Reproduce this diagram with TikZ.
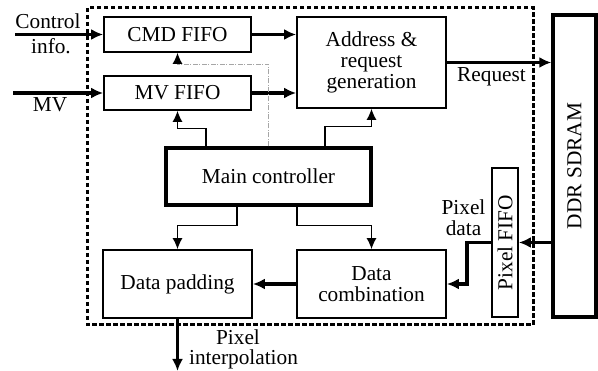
\documentclass[tikz,border=0pt]{standalone}
\usepackage{fontspec}
\setmainfont{Liberation Serif}
\usetikzlibrary{arrows.meta}
\begin{document}
\begin{tikzpicture}[x=1pt,y=-1pt,
  font=\fontsize{21.3}{21}\selectfont,
  blk/.style={draw,line width=1.8pt,minimum width=#1,inner sep=0pt,align=center},
  thickblk/.style={draw,line width=3.4pt,inner sep=0pt,align=center},
  bus/.style={line width=3.4pt,-{Latex[length=12pt,width=11pt]}},
  ctl/.style={line width=1.1pt,-{Latex[length=11pt,width=10pt]}},
  lbl/.style={anchor=base,inner sep=0pt}]
\useasboundingbox (0,0) rectangle (598,371);

% dashed outline of the controller
\draw[line width=3pt,dash pattern=on 4.5pt off 2.5pt] (87,8) rectangle (533,325);

% blocks
\node[blk=147pt,minimum height=35pt] (cmd) at (177.5,34.5) {CMD FIFO};
\node[blk=147pt,minimum height=34pt] (mv) at (177.5,93) {MV FIFO};
\node[blk=149pt,minimum height=91pt] (addr) at (371.5,62.5) {Address \&\\request\\generation};
\node[thickblk,minimum width=205pt,minimum height=57pt] (main) at (268.5,176.5) {Main controller};
\node[blk=149pt,minimum height=68pt] (pad) at (177.5,284) {Data padding};
\node[blk=149pt,minimum height=68pt] (comb) at (371.5,284) {Data\\combination};
\node[blk=26pt,minimum height=149pt] (pfifo) at (505,242.5) {};
\node[rotate=90] at (pfifo.center) {Pixel FIFO};
\node[thickblk,minimum width=43pt,minimum height=302pt] (ddr) at (574.5,166) {};
\node[rotate=90] at (ddr.center) {DDR SDRAM};

% external inputs and outputs
\coordinate (ctlin) at (15,34.5);
\coordinate (mvin) at (13,93);
\coordinate (pixout) at (177.5,371);
\draw[bus] (ctlin) -- (cmd.west);
\draw[bus] (mvin) -- (mv.west);
\draw[bus] (pad.south) -- (pixout);

% data paths
\draw[bus] (cmd.east) -- (addr.west |- cmd.east);
\draw[bus] (mv.east) -- (addr.west |- mv.east);
\draw[bus] (addr.east) -- (ddr.west |- addr.east);
\draw[bus] (ddr.west |- pfifo.east) -- (pfifo.east);
\draw[bus] (pfifo.west) -- ++(-24,0) |- (comb.east);
\draw[bus] (comb.west) -- (pad.east);

% control paths from the main controller
\draw[ctl] ([xshift=-62.5pt]main.north) -- ++(0,-18) -| (mv.south);
\draw[ctl,gray!70,dash pattern=on 5pt off 1.5pt on 1pt off 1.5pt,-{Latex[length=11pt,width=10pt,color=black]}]
  (main.north) -- ++(0,-82) -| (cmd.south);
\draw[ctl] ([xshift=56.5pt]main.north) -- ++(0,-20) -| (addr.south);
\draw[ctl] ([xshift=-31.5pt]main.south) -- ++(0,19) -| (pad.north);
\draw[ctl] ([xshift=28.5pt]main.south) -- ++(0,19) -| (comb.north);

% labels
\node[lbl] at (48,28.5) {Control};
\node[lbl] at (51,54) {info.};
\node[lbl] at (50,112) {MV};
\node[lbl] at (491.5,82) {Request};
\node[inner sep=0pt,align=center] at (463.5,218) {Pixel\\data};
\node[lbl] at (238,345) {Pixel};
\node[lbl] at (243.5,365) {interpolation};
\end{tikzpicture}
\end{document}
